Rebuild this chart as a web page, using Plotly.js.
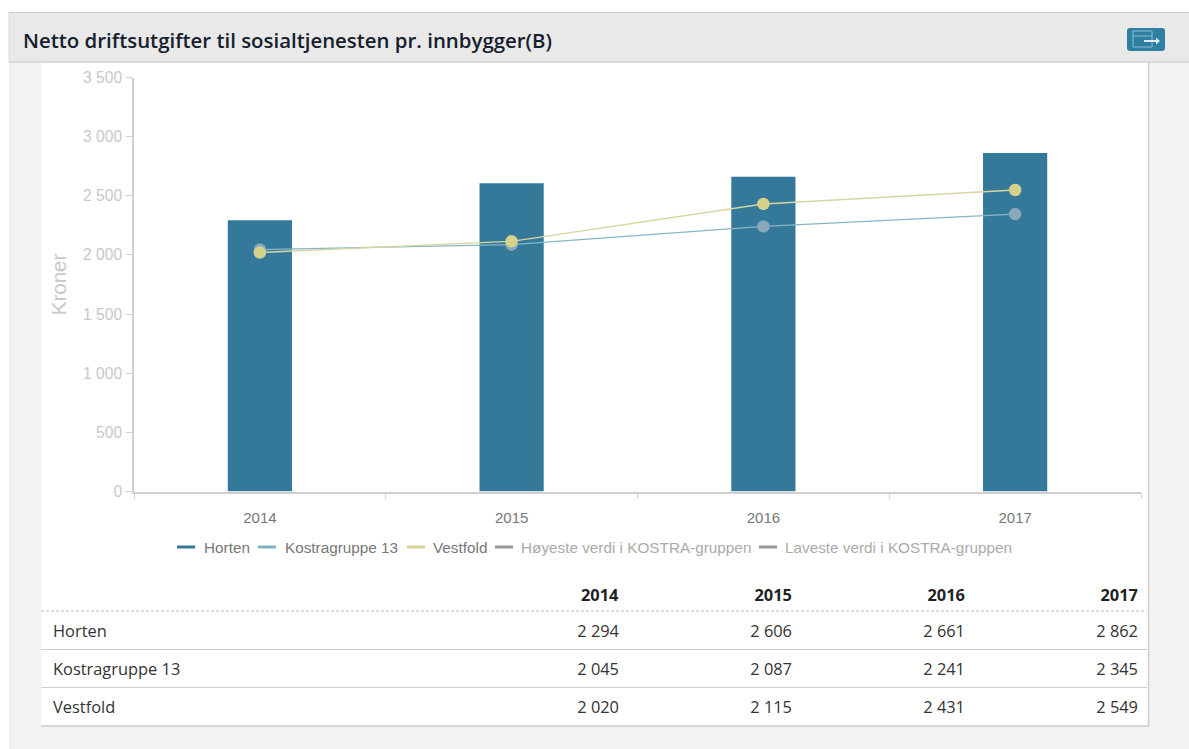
<!DOCTYPE html>
<html><head><meta charset="utf-8">
<script src="https://cdn.plot.ly/plotly-3.0.1.min.js"></script>
<style>html,body{margin:0;padding:0;background:#fff;overflow:hidden}#c{width:1189px;height:749px}</style>
</head><body><div id="c"></div>
<script>
const titleText = "Netto driftsutgifter til sosialtjenesten pr. innbygger(B)";
const years = ["2014","2015","2016","2017"];
const horten = [2294,2606,2661,2862];
const kostra = [2045,2087,2241,2345];
const vestfold = [2020,2115,2431,2549];
const rowNames = ["Horten","Kostragruppe 13","Vestfold"];
const legendNames = ["Horten","Kostragruppe 13","Vestfold","Høyeste verdi i KOSTRA-gruppen","Laveste verdi i KOSTRA-gruppen"];
const legendColors = ["#35799a","#7fb0c4","#d5d39a","#999999","#999999"];
const legendTextColors = ["#777777","#777777","#777777","#aaaaaa","#aaaaaa"];
const legendSwatchLeft = [177,258,407,495,759];
const legendTextLeft = [204,285,433,521,785];

const W=1189,H=749;
const X=p=>p/W, Y=p=>1-p/H;
const fmt=v=>String(v).replace(/\B(?=(\d{3})+$)/g," ");
const rect=(x0,y0,x1,y1,fill,extra)=>Object.assign({type:"rect",xref:"paper",yref:"paper",x0:X(x0),x1:X(x1),y0:Y(y0),y1:Y(y1),fillcolor:fill,line:{width:0},layer:"below"},extra||{});
const hline=(x0,x1,y,color,width,dash)=>({type:"line",xref:"paper",yref:"paper",x0:X(x0),x1:X(x1),y0:Y(y),y1:Y(y),line:{color,width,dash:dash||"solid"},layer:"below"});
const vline=(x,y0,y1,color,width)=>({type:"line",xref:"paper",yref:"paper",x0:X(x),x1:X(x),y0:Y(y0),y1:Y(y1),line:{color,width},layer:"below"});

const shapes=[
 rect(9,62,1189,749,"#f2f2f2"),
 rect(41,62,1148,726,"#ffffff"),
 rect(9,12,1189,62,"#e9e9e9"),
 hline(9,1189,12.5,"#cccccc",1),
 hline(9,1189,62,"#d2d2d2",1.5),
 vline(9,12,62,"#d8d8d8",1),
 vline(1148.5,62,726,"#cfcfcf",1.5),
 hline(41,1149,726,"#c8c8c8",1.5),
 hline(41,1147,611,"#bdbdbd",1,"3px,2px"),
 hline(41,1147,649.5,"#cfcfcf",1.2),
 hline(41,1147,687.5,"#cfcfcf",1.2),
 {type:"path",xref:"paper",yref:"paper",layer:"below",fillcolor:"#2f7fa3",line:{width:0},
  path:`M${X(1130)},${Y(28)} L${X(1162)},${Y(28)} Q${X(1165)},${Y(28)} ${X(1165)},${Y(31)} L${X(1165)},${Y(48)} Q${X(1165)},${Y(51)} ${X(1162)},${Y(51)} L${X(1130)},${Y(51)} Q${X(1127)},${Y(51)} ${X(1127)},${Y(48)} L${X(1127)},${Y(31)} Q${X(1127)},${Y(28)} ${X(1130)},${Y(28)} Z`},
 {type:"path",xref:"paper",yref:"paper",layer:"above",line:{color:"#8fbdd2",width:1},
  path:`M${X(1152)},${Y(31)} L${X(1133)},${Y(31)} L${X(1133)},${Y(47)} L${X(1152)},${Y(47)} L${X(1152)},${Y(31)} M${X(1133)},${Y(36)} L${X(1152)},${Y(36)}`},
 {type:"path",xref:"paper",yref:"paper",layer:"above",line:{color:"#dcecf3",width:2},
  path:`M${X(1144)},${Y(41)} L${X(1157)},${Y(41)}`},
 {type:"path",xref:"paper",yref:"paper",layer:"above",fillcolor:"#dcecf3",line:{width:0},
  path:`M${X(1156)},${Y(37.5)} L${X(1160)},${Y(41)} L${X(1156)},${Y(44.5)} Z`}
];
legendNames.forEach((n,i)=>shapes.push({type:"line",xref:"paper",yref:"paper",x0:X(legendSwatchLeft[i]),x1:X(legendSwatchLeft[i]+18),y0:Y(547),y1:Y(547),line:{color:legendColors[i],width:3}}));

const annotations=[
 {text:titleText,xref:"paper",yref:"paper",x:X(23),y:Y(40),xanchor:"left",yanchor:"middle",showarrow:false,xshift:-2,font:{family:"Open Sans",size:20.4,color:"#16202c",weight:600}}
];
legendNames.forEach((n,i)=>annotations.push({text:n,xref:"paper",yref:"paper",x:X(legendTextLeft[i]),y:Y(547),xanchor:"left",yanchor:"middle",showarrow:false,xshift:-2,font:{family:"Liberation Sans",size:15.3,color:legendTextColors[i]}}));

const traces=[
 {type:"bar",name:"Horten",x:years,y:horten,width:0.255,marker:{color:"#35799a"},hoverinfo:"name+y"},
 {type:"scatter",mode:"lines+markers",name:"Kostragruppe 13",x:years,y:kostra,line:{color:"#8ab5c8",width:1.4},marker:{color:"#88a8bc",size:12.5}},
 {type:"scatter",mode:"lines+markers",name:"Vestfold",x:years,y:vestfold,line:{color:"#d8d6a0",width:1.4},marker:{color:"#d6d28c",size:12.5}},
 {type:"table",domain:{x:[X(45),X(1146)],y:[Y(731),Y(575)]},columnwidth:[409,173,173,173,173],
  header:{values:[""].concat(years.map(v=>"<b>"+v+"</b>")),height:42,align:["left","right","right","right","right"],fill:{color:"rgba(0,0,0,0)"},line:{width:0,color:"rgba(0,0,0,0)"},font:{family:"Open Sans",size:16.4,color:"#222222"}},
  cells:{values:[rowNames,
    [horten[0],kostra[0],vestfold[0]].map(fmt),
    [horten[1],kostra[1],vestfold[1]].map(fmt),
    [horten[2],kostra[2],vestfold[2]].map(fmt),
    [horten[3],kostra[3],vestfold[3]].map(fmt)],
   height:38,align:["left","right","right","right","right"],fill:{color:"rgba(0,0,0,0)"},line:{width:0,color:"rgba(0,0,0,0)"},font:{family:"Open Sans",size:16.4,color:"#333333"}}}
];

const layout={width:W,height:H,margin:{l:0,r:0,t:0,b:0},paper_bgcolor:"#ffffff",plot_bgcolor:"rgba(0,0,0,0)",
 separators:", ",showlegend:false,shapes,annotations,
 xaxis:{domain:[X(134),X(1141)],type:"category",categoryorder:"array",categoryarray:years,tickson:"boundaries",ticks:"outside",ticklen:6,tickcolor:"#d0d0d0",linecolor:"#d0d0d0",linewidth:1.5,showline:true,showgrid:false,zeroline:false,ticklabelstandoff:12,tickfont:{family:"Liberation Sans",size:15,color:"#777777"},anchor:"y"},
 yaxis:{domain:[Y(491.5),Y(77.5)],range:[0,3500],tick0:0,dtick:500,tickformat:",d",ticks:"outside",ticklen:6,tickcolor:"#d0d0d0",linecolor:"#d0d0d0",linewidth:1.5,showline:true,showgrid:false,zeroline:false,ticklabelstandoff:1,tickfont:{family:"Liberation Sans",size:15.6,color:"#c8c8c8"},title:{text:"Kroner",font:{family:"Liberation Sans",size:20.5,color:"#c8c8c8"},standoff:11},anchor:"x",automargin:false}
};
Plotly.newPlot("c",traces,layout,{displayModeBar:false});
</script></body></html>
